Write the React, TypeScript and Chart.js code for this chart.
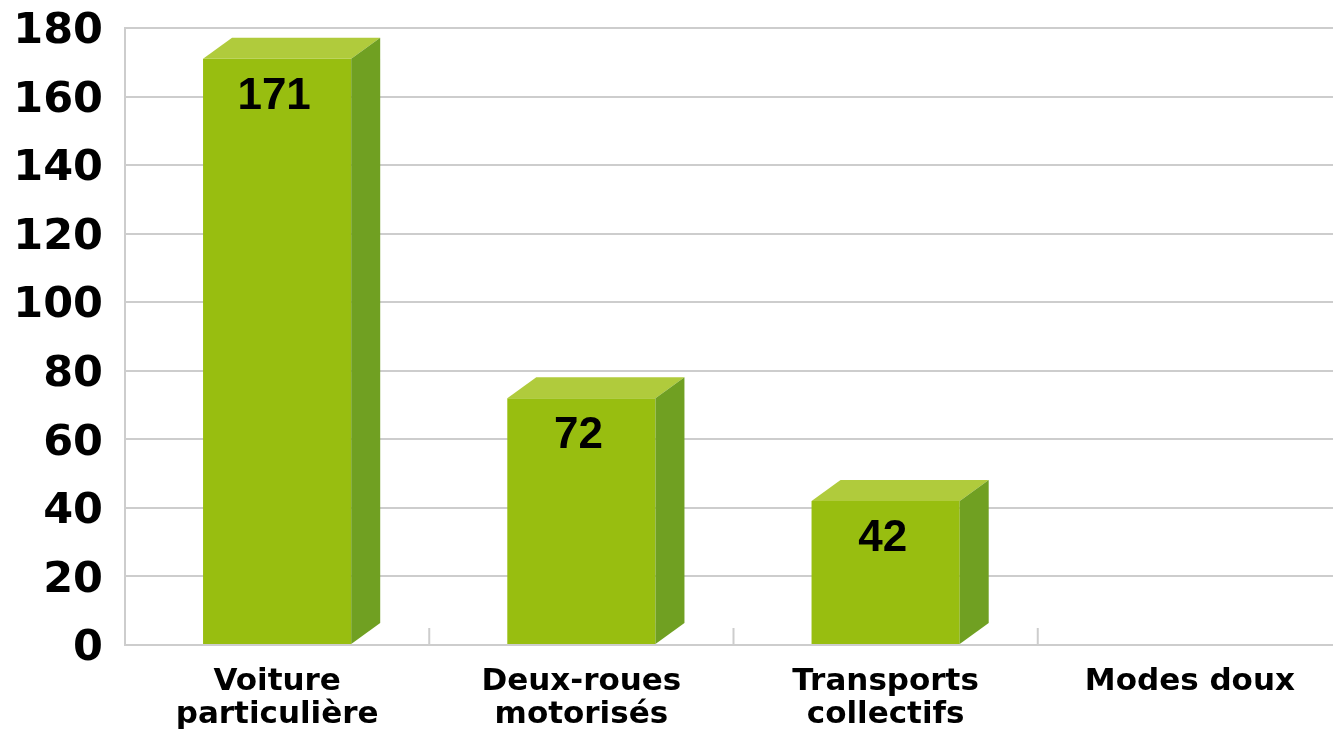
import React, { useEffect, useRef } from 'react';
import { Chart, registerables } from 'chart.js';

Chart.register(...registerables);

const categories: string[][] = [
  ['Voiture', 'particulière'],
  ['Deux-roues', 'motorisés'],
  ['Transports', 'collectifs'],
  ['Modes doux'],
];
const values: (number | null)[] = [171, 72, 42, null];
const yMin = 0;
const yMax = 180;
const yStep = 20;

const FRONT = '#98BE10';
const TOP = '#B0CB3C';
const SIDE = '#70A022';
const GRID = '#CDCDCD';
const DX = 29;
const DY = 21;

const bar3d = {
  id: 'bar3d',
  beforeDatasetsDraw(chart: any) {
    const ctx = chart.ctx;
    const xs = chart.scales.x;
    const area = chart.chartArea;
    ctx.save();
    ctx.strokeStyle = GRID;
    ctx.lineWidth = 2;
    for (let i = 1; i < categories.length; i++) {
      const px = (xs.getPixelForValue(i - 1) + xs.getPixelForValue(i)) / 2;
      ctx.beginPath();
      ctx.moveTo(px, area.bottom);
      ctx.lineTo(px, area.bottom - 17);
      ctx.stroke();
    }
    ctx.restore();
  },
  afterDatasetsDraw(chart: any) {
    const ctx = chart.ctx;
    const meta = chart.getDatasetMeta(0);
    ctx.save();
    meta.data.forEach((bar: any, i: number) => {
      const v = values[i];
      if (v == null) return;
      const { x, y, base, width } = bar.getProps(['x', 'y', 'base', 'width'], true);
      const l = x - width / 2;
      const r = x + width / 2;
      ctx.fillStyle = TOP;
      ctx.beginPath();
      ctx.moveTo(l, y);
      ctx.lineTo(l + DX, y - DY);
      ctx.lineTo(r + DX, y - DY);
      ctx.lineTo(r, y);
      ctx.closePath();
      ctx.fill();
      ctx.fillStyle = SIDE;
      ctx.beginPath();
      ctx.moveTo(r, y);
      ctx.lineTo(r + DX, y - DY);
      ctx.lineTo(r + DX, base - DY);
      ctx.lineTo(r, base);
      ctx.closePath();
      ctx.fill();
      ctx.fillStyle = '#000';
      ctx.font = 'bold 44px "Liberation Sans", Arial, sans-serif';
      ctx.textAlign = 'center';
      ctx.textBaseline = 'middle';
      ctx.fillText(String(v), x - 3, y + 38);
    });
    ctx.restore();
  },
};

export default function App() {
  const ref = useRef<HTMLCanvasElement | null>(null);
  useEffect(() => {
    if (!ref.current) return;
    const chart = new Chart(ref.current, {
      type: 'bar',
      data: {
        labels: categories,
        datasets: [
          {
            data: values,
            backgroundColor: FRONT,
            borderWidth: 0,
            barPercentage: 0.487,
            categoryPercentage: 1,
          },
        ],
      },
      options: {
        animation: false,
        responsive: false,
        devicePixelRatio: 1,
        layout: { padding: { top: 28, left: 0, right: 0, bottom: 0 } },
        plugins: { legend: { display: false }, tooltip: { enabled: false } },
        scales: {
          x: {
            offset: true,
            grid: { display: false },
            border: { display: false },
            ticks: {
              color: '#000',
              font: { family: '"DejaVu Sans", sans-serif', size: 31, weight: 'bold', lineHeight: 1.08 },
              padding: 12,
              maxRotation: 0,
              autoSkip: false,
            },
            afterFit: (s: any) => {
              s.height = 89;
              s.paddingLeft = 0;
              s.paddingRight = 0;
            },
          },
          y: {
            min: yMin,
            max: yMax,
            grid: { color: GRID, lineWidth: 2, drawTicks: false },
            border: { display: true, color: GRID, width: 2 },
            ticks: {
              stepSize: yStep,
              color: '#000',
              padding: 22,
              labelOffset: 4,
              font: { family: '"DejaVu Sans", sans-serif', size: 43, weight: 'bold' },
            },
            afterFit: (s: any) => {
              s.width = 125;
              s.paddingTop = 0;
              s.paddingBottom = 0;
            },
          },
        },
      },
      plugins: [bar3d],
    } as any);
    return () => chart.destroy();
  }, []);
  return (
    <div style={{ position: 'fixed', left: 0, top: 0, width: 1333, height: 734, overflow: 'hidden', background: '#fff' }}>
      <canvas ref={ref} width={1342} height={734} style={{ display: 'block' }} />
    </div>
  );
}
